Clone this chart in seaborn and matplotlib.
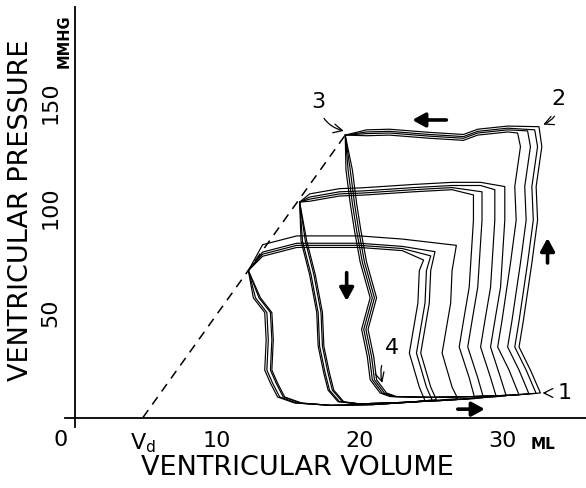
import matplotlib
matplotlib.use("Agg")
import matplotlib.pyplot as plt
import pandas as pd
import seaborn as sns

# ---------------- data (volume ml, pressure mmHg) -------------
# Loop family A (highest afterload, end-systolic corner "3")
A_top_V = [19.0, 20.5, 22.1, 24.9, 27.3, 28.3, 30.4]
A_top_P = [134.5, 135.2, 135.5, 134.0, 133.0, 135.5, 137.0]
A_relax_V = [19.0, 19.2, 19.5, 19.8, 20.2, 20.9, 20.3, 20.7, 20.9, 21.6, 22.3]
A_relax_P = [134.5, 118, 102, 89, 74, 57, 42, 29, 18, 11.7, 10.0]
A_fill_V = [22.3, 25.0, 28.0, 30.5]
A_fill_P = [10.0, 9.6, 10.0, 10.6]
A_right_P = [22.6, 33.6, 46, 73.6, 94, 110, 129]
A_right_dV = [-0.7, -1.5, -1.2, -0.6, -0.2, -0.3, 0.1]
A_edv = [31.2, 31.9, 32.4, 32.7]
A_edp = [10.8, 11.2, 11.5, 11.7]
A_pes = [135.5, 136.5, 137.0, 138.5]
A_dtop = [-1.0, 0.0, 0.8, 1.8]
A_shift = [0.3, 0.0, -0.15, 0.15]

# Loop family B (middle afterload)
B_top_V = [15.8, 16.5, 18.6, 20.2, 23.8, 26.5, 28.5]
B_top_P = [102.6, 104.5, 107.0, 107.4, 109.0, 110.0, 110.0]
B_relax_V = [15.8, 16.0, 16.6, 17.1, 17.2, 17.6, 17.9, 18.6]
B_relax_P = [102.6, 84, 68, 50, 34, 21, 13, 7.5]
B_fill_V = [18.6, 20.0, 23.0, 26.0]
B_fill_P = [7.5, 6.5, 7.2, 8.2]
B_right_P = [19, 33.6, 46, 62, 94]
B_right_dV = [-0.4, -1.1, -0.8, -0.4, -0.1]
B_edv = [28.1, 28.7, 29.6, 30.3]
B_edp = [9.0, 9.5, 10.0, 10.3]
B_pes = [106.0, 107.5, 108.5, 110.0]
B_dtop = [-1.5, -0.5, 0.5, 2.0]
B_shift = [0.0, 0.2, -0.1, 0.3]

# Loop family C (lowest afterload)
C_top_V = [12.2, 13.2, 15.6, 20.0, 23.0]
C_top_P = [70.0, 78.8, 83.0, 83.0, 81.5]
C_relax_V = [12.2, 12.7, 13.5, 13.6, 13.5, 13.9, 14.4, 15.6]
C_relax_P = [70, 57, 50, 37, 22.6, 16.4, 9.8, 6.9]
C_fill_V = [15.6, 18.0, 21.0, 23.5]
C_fill_P = [6.9, 5.8, 6.2, 7.3]
C_right_P = [14.5, 30.7, 54.5, 70]
C_right_dV = [-0.4, -1.1, -0.5, -0.4]
C_edv = [24.6, 25.1, 25.4, 26.9]
C_edp = [8.0, 8.3, 8.5, 9.0]
C_pes = [75.0, 77.0, 79.0, 82.0]
C_dtop = [-2.0, -1.0, 0.0, 3.5]
C_shift = [0.0, 0.25, -0.15, 0.35]

# End-systolic pressure-volume line (dashed), from Vd to corner "3"
ES_V = [4.8, 19.0]
ES_P = [0.0, 134.5]

x_ticks = [4.8, 10, 20, 30]
x_ticklabels = [r"V$_{\mathrm{d}}$", "10", "20", "30"]
y_ticks = [50, 100, 150]
y_ticklabels = ["50", "100", "150"]


def build_family(name, top_V, top_P, relax_V, relax_P, fill_V, fill_P,
                 right_P, right_dV, edv, edp, pes, dtop, shift):
    rows = []
    for k in range(len(edv)):
        V, P = [], []
        for i, (v, p) in enumerate(zip(relax_V, relax_P)):
            V.append(v + (shift[k] if i > 0 else 0.0))
            P.append(p)
        for v, p in zip(fill_V, fill_P):
            if V[-1] < v < edv[k] - 0.3:
                V.append(v)
                P.append(p)
        V.append(edv[k]); P.append(edp[k])
        for p, dv in zip(right_P, right_dV):
            if p < pes[k] - 3:
                V.append(edv[k] + dv); P.append(p)
        V.append(edv[k] - 0.1); P.append(pes[k])
        for v, p in reversed(list(zip(top_V[1:], top_P[1:]))):
            if v < edv[k] - 0.6:
                V.append(v); P.append(p + dtop[k])
        V.append(relax_V[0]); P.append(relax_P[0])
        for j, (v, p) in enumerate(zip(V, P)):
            rows.append({"trace": f"{name}{k}", "order": j, "V": v, "P": p})
    return rows


rows = []
rows += build_family("A", A_top_V, A_top_P, A_relax_V, A_relax_P, A_fill_V, A_fill_P,
                     A_right_P, A_right_dV, A_edv, A_edp, A_pes, A_dtop, A_shift)
rows += build_family("B", B_top_V, B_top_P, B_relax_V, B_relax_P, B_fill_V, B_fill_P,
                     B_right_P, B_right_dV, B_edv, B_edp, B_pes, B_dtop, B_shift)
rows += build_family("C", C_top_V, C_top_P, C_relax_V, C_relax_P, C_fill_V, C_fill_P,
                     C_right_P, C_right_dV, C_edv, C_edp, C_pes, C_dtop, C_shift)
loops = pd.DataFrame(rows)
es_line = pd.DataFrame({"V": ES_V, "P": ES_P})

sns.set_style("white")
plt.rcParams["font.family"] = ["DejaVu Sans"]
plt.rcParams["text.color"] = "black"
plt.rcParams["xtick.color"] = "black"
plt.rcParams["ytick.color"] = "black"

W, H = 586, 488
fig = plt.figure(figsize=(W / 100, H / 100), dpi=100)
ax = fig.add_axes([65 / W, 61 / H, 521 / W, 420 / H])

sns.lineplot(data=loops, x="V", y="P", units="trace", estimator=None, sort=False,
             color="black", linewidth=0.85, ax=ax, legend=False)
sns.lineplot(data=es_line, x="V", y="P", sort=False, color="black", linewidth=1.1,
             linestyle=(0, (6, 4.5)), ax=ax, legend=False)

ax.set_xlim(-0.67, 35.9)
ax.set_ylim(-4.5, 195.5)
for s in ["top", "right"]:
    ax.spines[s].set_visible(False)
ax.spines["left"].set_position(("data", 0))
ax.spines["bottom"].set_position(("data", 0))
for s in ["left", "bottom"]:
    ax.spines[s].set_linewidth(1.3)
    ax.spines[s].set_color("black")

ax.set_xticks(x_ticks)
ax.set_xticklabels(x_ticklabels)
ax.set_yticks(y_ticks)
ax.set_yticklabels(y_ticklabels, rotation=90, va="center")
ax.tick_params(axis="both", direction="out", length=5, width=1.2, labelsize=16,
               pad=5, colors="black")
ax.set_xlabel("")
ax.set_ylabel("")

# extra axis texts
ax.text(-0.98, -10.5, "0", fontsize=16, ha="center", va="center")
ax.text(32.9, -15.0, "ML", fontsize=11, ha="center", va="baseline", weight="bold")
ax.text(-0.2, 179.0, "MMHG", fontsize=10.5, ha="right", va="center", rotation=90,
        weight="bold", clip_on=False)

fig.text(21 / W, 1 - 210 / H, "VENTRICULAR PRESSURE", rotation=90, ha="center",
         va="center", fontsize=19.5)
fig.text(297 / W, 1 - 468 / H, "VENTRICULAR VOLUME", ha="center", va="center",
         fontsize=19.5)

# numbered labels with curved pointers
thin = dict(arrowstyle="->", lw=0.9, color="black", shrinkA=3, shrinkB=0)
ax.annotate("3", xy=(18.9, 136.5), xytext=(17.1, 150.5), fontsize=16, ha="center",
            va="center", arrowprops=dict(thin, connectionstyle="arc3,rad=0.35"))
ax.annotate("2", xy=(32.9, 139.5), xytext=(34.0, 151.5), fontsize=16, ha="center",
            va="center", arrowprops=dict(thin, connectionstyle="arc3,rad=-0.35"))
ax.annotate("4", xy=(21.6, 16.5), xytext=(22.3, 33.0), fontsize=16, ha="center",
            va="center", arrowprops=dict(thin, connectionstyle="arc3,rad=0.3"))
ax.annotate("1", xy=(32.85, 11.7), xytext=(34.4, 11.7), fontsize=16, ha="center",
            va="center", arrowprops=dict(thin, shrinkA=6))

# thick direction arrows
thick = dict(arrowstyle="-|>,head_length=0.55,head_width=0.3", lw=2.6, color="black",
             shrinkA=0, shrinkB=0, mutation_scale=14)
ax.annotate("", xy=(23.7, 141.7), xytext=(26.1, 141.7), arrowprops=thick)
ax.annotate("", xy=(33.2, 85.5), xytext=(33.2, 73.6), arrowprops=thick)
ax.annotate("", xy=(19.1, 55.5), xytext=(19.1, 69.0), arrowprops=thick)
ax.annotate("", xy=(28.8, 4.0), xytext=(26.9, 4.0), arrowprops=thick)

fig.savefig("out.png", dpi=100, facecolor="white")
